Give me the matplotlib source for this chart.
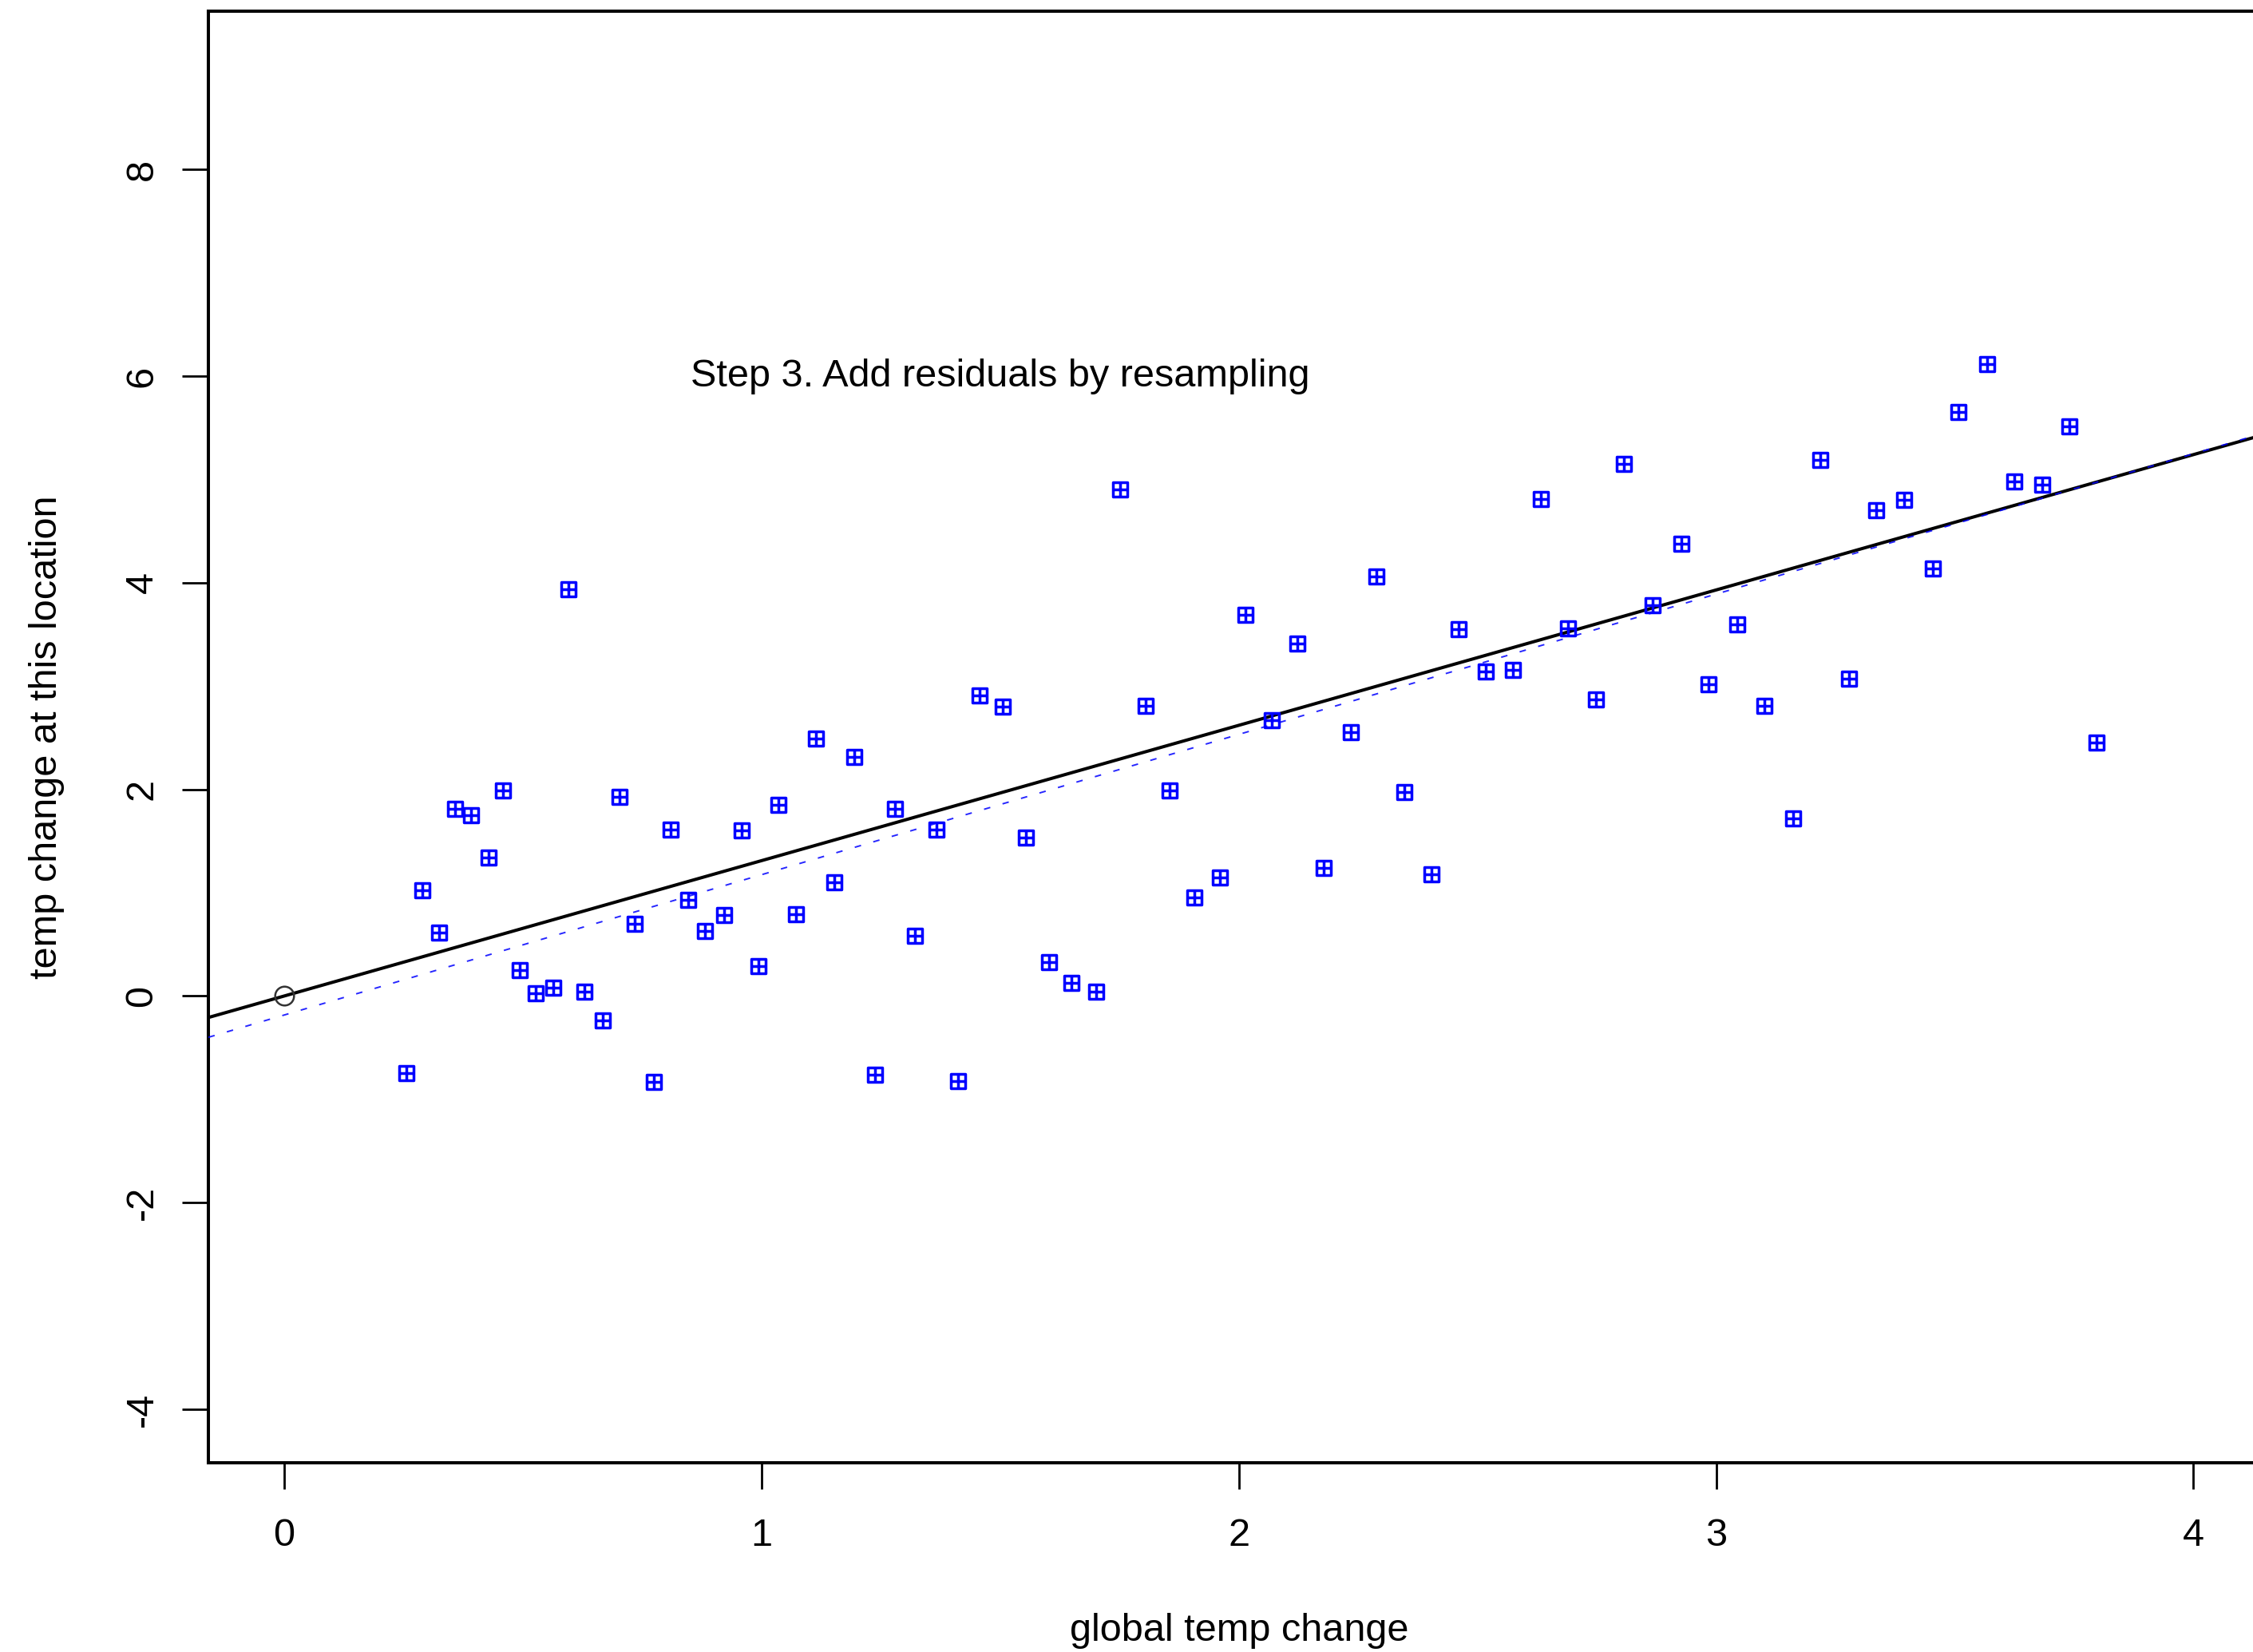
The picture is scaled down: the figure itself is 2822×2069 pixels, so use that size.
import matplotlib
matplotlib.use("Agg")
import matplotlib.pyplot as plt
from matplotlib.path import Path
import numpy as np

plt.rcParams['font.family'] = ['Liberation Sans', 'DejaVu Sans']

# ---- data ----
global_change = [0.256, 0.289, 0.325, 0.358, 0.391, 0.428, 0.458, 0.494, 0.527, 0.563,
                 0.596, 0.629, 0.668, 0.702, 0.735, 0.774, 0.810, 0.846, 0.882, 0.921,
                 0.958, 0.994, 1.036, 1.072, 1.114, 1.153, 1.195, 1.238, 1.280, 1.322,
                 1.367, 1.412, 1.457, 1.506, 1.554, 1.602, 1.650, 1.701, 1.752, 1.804,
                 1.855, 1.906, 1.960, 2.014, 2.069, 2.123, 2.177, 2.234, 2.288, 2.346,
                 2.403, 2.460, 2.517, 2.574, 2.632, 2.689, 2.749, 2.806, 2.867, 2.927,
                 2.984, 3.044, 3.101, 3.162, 3.219, 3.279, 3.336, 3.394, 3.454, 3.508,
                 3.568, 3.625, 3.683, 3.740, 3.797]
local_change = [-0.75, 1.02, 0.61, 1.81, 1.75, 1.34, 1.99, 0.25, 0.03, 0.08,
                3.94, 0.04, -0.24, 1.93, 0.70, -0.83, 1.61, 0.93, 0.63, 0.78,
                1.60, 0.29, 1.85, 0.79, 2.49, 1.10, 2.31, -0.76, 1.81, 0.58,
                1.61, -0.82, 2.91, 2.80, 1.53, 0.33, 0.13, 0.04, 4.90, 2.81,
                1.99, 0.95, 1.15, 3.69, 2.67, 3.41, 1.24, 2.55, 4.06, 1.97,
                1.18, 3.55, 3.14, 3.16, 4.81, 3.56, 2.87, 5.15, 3.78, 4.38,
                3.02, 3.60, 2.81, 1.72, 5.19, 3.07, 4.70, 4.80, 4.14, 5.65,
                6.12, 4.98, 4.95, 5.51, 2.45]
origin_point = (0.0, 0.0)
fit_true = (0.0, 1.31)           # intercept, slope (black solid)
fit_resampled = (-0.184, 1.358)  # intercept, slope (blue dashed)
x_ticks = [0, 1, 2, 3, 4]
y_ticks = [-4, -2, 0, 2, 4, 6, 8]
annotation = "Step 3. Add residuals by resampling"
xlabel = "global temp change"
ylabel = "temp change at this location"

# ---- figure ----
W, H = 2822, 2069
fig = plt.figure(figsize=(W / 100, H / 100), dpi=100)
ax = fig.add_axes([261 / W, 1 - 1832 / H, 2582 / W, (1832 - 14.4) / H])
ax.set_xlim(-0.159, 4.160)
ax.set_ylim(-4.518, 9.529)

# square-with-plus marker (R pch 12)
verts = [(-1, -1), (1, -1), (1, 1), (-1, 1), (-1, -1),
         (-1, 0), (1, 0), (0, -1), (0, 1)]
codes = [Path.MOVETO, Path.LINETO, Path.LINETO, Path.LINETO, Path.CLOSEPOLY,
         Path.MOVETO, Path.LINETO, Path.MOVETO, Path.LINETO]
sq_plus = Path(verts, codes)

ax.axline((0, fit_true[0]), slope=fit_true[1], color='black', lw=2.9, zorder=3)
ax.axline((0, fit_resampled[0]), slope=fit_resampled[1], color='blue', lw=1.4,
          dashes=(4.2, 8.2), alpha=0.85, zorder=3)
ax.plot(global_change, local_change, linestyle='none', marker=sq_plus,
        ms=13.3, mew=2.5, mec='blue', mfc='none', zorder=4)
ax.plot([origin_point[0]], [origin_point[1]], linestyle='none', marker='o',
        ms=17, mew=1.8, mec='#333333', mfc='none', zorder=4)

ax.text(1.5, 6.0, annotation, ha='center', va='center', fontsize=35)

ax.set_xticks(x_ticks)
ax.set_xticklabels([str(v) for v in x_ticks])
ax.set_yticks(y_ticks)
ax.set_yticklabels([str(v) for v in y_ticks], rotation=90, va='center')
ax.tick_params(axis='both', labelsize=35, length=23.5, width=2.0, direction='out')
ax.tick_params(axis='x', pad=26)
ax.tick_params(axis='y', pad=20)

for s in ax.spines.values():
    s.set_linewidth(2.9)

ax.text(0.5, -0.116, xlabel, transform=ax.transAxes, ha='center', va='center',
        fontsize=35)
ax.text(-0.0786, 0.5, ylabel, transform=ax.transAxes, ha='center', va='center',
        rotation=90, fontsize=35)

fig.savefig('out.png', dpi=100, facecolor='white')
